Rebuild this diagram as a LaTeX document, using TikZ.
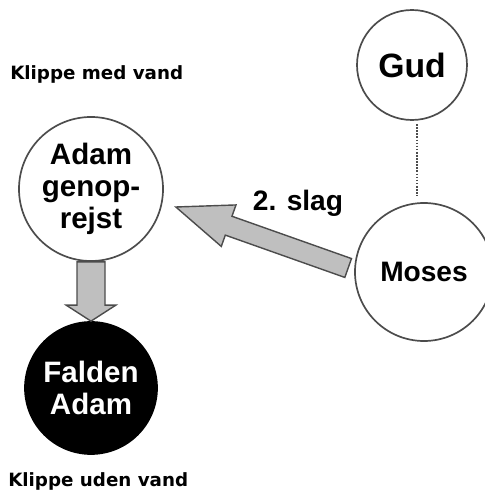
\documentclass[tikz,border=0pt]{standalone}
\usepackage{fontspec}
\setmainfont{Liberation Sans}
\newfontfamily\labelfont{DejaVu Sans}
\usetikzlibrary{calc}

\newcommand{\fatarrow}[5]{%
  \coordinate (fa-base) at ($(#2)!#5!(#1)$);
  \filldraw[fill=gray!50, draw=black!70, line width=1pt]
    ($(#1)!#3!90:(#2)$) -- ($(fa-base)!#3!90:(#2)$) -- ($(fa-base)!#4!90:(#2)$)
    -- (#2) -- ($(fa-base)!#4!-90:(#2)$) -- ($(fa-base)!#3!-90:(#2)$)
    -- ($(#1)!#3!-90:(#2)$) -- cycle;
}

\begin{document}
\begin{tikzpicture}[
    bubble/.style={circle, draw=black!70, line width=1.2pt, inner sep=0pt, align=center,
      font=\bfseries\fontsize{21}{23}\selectfont},
    rock/.style={anchor=west, inner sep=0pt, font=\labelfont\bfseries\fontsize{13}{15}\selectfont}]
        \clip (0,0) rectangle (12.125,12.325);
        \node[bubble, minimum size=2.75cm, font=\bfseries\fontsize{24}{28}\selectfont] (gud) at (10.3,10.7) {Gud};
        \node[bubble, minimum size=3.45cm, font=\bfseries\fontsize{20}{23}\selectfont] (moses) at (10.6,5.525) {Moses};
        \node[bubble, minimum size=3.6cm] (adam) at (2.275,7.6) {Adam\\genop-\\rejst};
        \node[bubble, minimum size=3.3cm, fill=black, draw=black, text=white] (falden) at (2.275,2.625) {Falden\\Adam};
        \node[rock] (medvand) at (0.25,10.475) {Klippe med vand};
        \node[rock] (udenvand) at (0.2,0.3) {Klippe uden vand};
        \node[font=\bfseries\fontsize{20}{23}\selectfont] (slag) at (7.45,7.25) {2. slag};
        \draw[densely dotted, line width=1.2pt, black!70]
          ($(gud.south)+(0.12,-0.08)$) -- ($(gud.south |- moses.north)+(0.12,0.15)$);
        \coordinate (slagtail) at ($(moses.west)+(-0.15,0.1)$);
        \coordinate (slagtip) at ($(adam.east)+(0.3,-0.45)$);
        \fatarrow{slagtail}{slagtip}{0.25cm}{0.55cm}{1.4cm}
        \fatarrow{adam.south}{falden.north}{0.35cm}{0.62cm}{0.4cm}
    \end{tikzpicture}
\end{document}
